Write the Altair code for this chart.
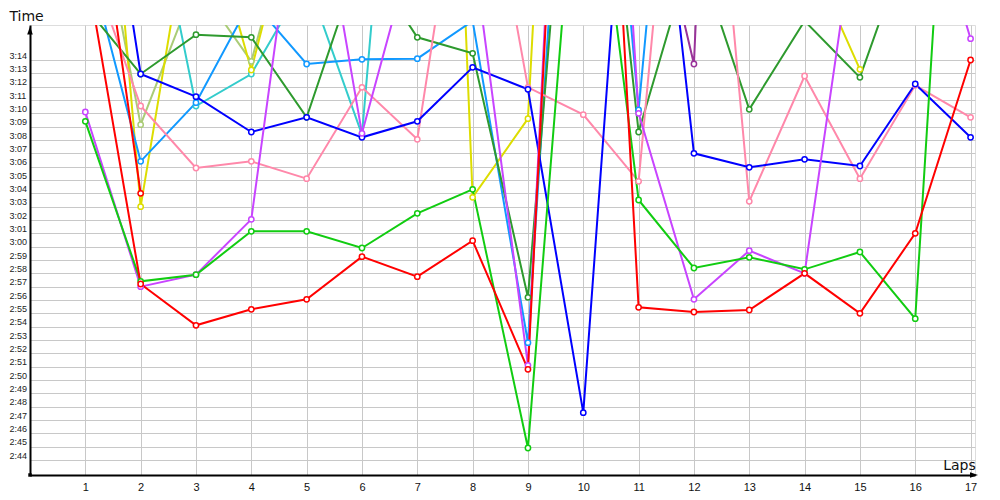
import altair as alt
import pandas as pd

# Lap numbers
laps = list(range(1, 18))

# Lap times in seconds (e.g. 177.2 = 2:57.2); None = no lap recorded
red      = [201.3, 177.2, 174.1, 175.3, 176.05, 179.25, 177.75, 180.45, 170.8, 251.7, 175.45, 175.1, 175.25, 178.0, 175.0, 181.0, 194.0]
green    = [189.4, 177.4, 177.9, 181.15, 181.15, 179.9, 182.5, 184.3, 164.9, 216.6, 183.5, 178.4, 179.2, 178.3, 179.6, 174.6, 241.6]
purple   = [190.1, 177.0, 177.9, 182.05, 212.5, 188.5, 203.75, 202.6, 171.1, 255.0, 190.0, 176.05, 179.7, 178.0, 206.7, 209.4, 195.6]
blue     = [219.8, 192.95, 191.25, 188.6, 189.7, 188.2, 189.4, 193.45, 191.8, 167.55, 224.6, 187.0, 185.95, 186.55, 186.05, 192.2, 188.2]
pink     = [202.2, 190.55, 185.9, 186.4, 185.1, 191.95, 188.05, 214.9, 191.95, 189.9, 184.9, 229.4, 183.4, 192.8, 185.1, 192.1, 189.7]
dkgreen  = [198.0, 192.95, 195.9, 195.7, 189.7, 202.0, 195.7, 194.5, 176.2, 226.5, 188.6, 202.7, 190.3, 196.93, 192.7, 204.4, 200.0]
ltblue   = [202.3, 186.4, 190.8, 198.5, 193.7, 194.05, 194.1, 196.93, 172.8, 237.0, 190.25, 234.7, None, None, None, None, None]
cyan     = [225.0, 211.1, 190.55, 192.95, 200.1, 188.4, 236.9, None, None, None, None, None, None, None, None, None, None]
yellow   = [230.7, 183.0, 208.0, 193.25, 209.5, 215.0, 286.0, 183.7, 189.6, 266.6, 212.0, 206.0, 208.0, 202.6, 193.3, None, None]
olive    = [210.8, 189.15, 199.8, 193.9, 209.0, None, None, None, None, None, None, None, None, None, None, None, None]
red2     = [213.1, 184.0, None, None, None, None, None, None, None, None, None, None, None, None, None, None, None]
dkpurple = [None, None, None, None, None, None, None, None, None, None, 211.3, 193.7, 289.0, None, None, None, None]

series_names = ["olive", "cyan", "dkpurple", "yellow", "ltblue", "dkgreen", "pink", "blue", "red2", "purple", "green", "red"]
series_vals = [olive, cyan, dkpurple, yellow, ltblue, dkgreen, pink, blue, red2, purple, green, red]
series_cols = ["#aacc77", "#33cccc", "#993399", "#dddd00", "#1199ff", "#2e9a2e",
               "#ff88aa", "#0000ff", "#ff0000", "#c844ff", "#11cc11", "#ff0000"]

# y-axis tick values (2:44 .. 3:14)
y_ticks = list(range(164, 195))

rows = []
for order, (name, vals) in enumerate(zip(series_names, series_vals)):
    for lap, v in zip(laps, vals):
        if v is not None:
            rows.append({"driver": name, "lap": lap, "t": v, "o": order})
df = pd.DataFrame(rows)

color = alt.Color("driver:N", scale=alt.Scale(domain=series_names, range=series_cols), legend=None)

x_enc = alt.X(
    "lap:Q",
    scale=alt.Scale(domain=[0, 17.08], nice=False, zero=False),
    axis=alt.Axis(
        values=laps, tickCount=40, format="d", grid=True, gridColor="#c8c8c8", gridWidth=1, ticks=False,
        domainColor="black", domainWidth=2,
        labelFont="Liberation Sans", labelFontSize=11, labelColor="#111",
        labelPadding=6, labelFlush=False, labelOverlap=False,
        title="Laps", titleFont="DejaVu Sans", titleFontSize=14, titleFontWeight="normal",
        titleColor="#111", titleX=929, titleY=-10, titleAlign="center", titleBaseline="middle",
    ),
)
y_enc = alt.Y(
    "t:Q",
    scale=alt.Scale(domain=[162.875, 196.625], nice=False, zero=False),
    axis=alt.Axis(
        values=y_ticks, tickCount=60, grid=True, gridColor="#c8c8c8", gridWidth=1, ticks=False,
        domainColor="black", domainWidth=2,
        labelExpr="floor(datum.value/60) + ':' + (datum.value % 60 < 10 ? '0' : '') + (datum.value % 60)",
        labelFont="Liberation Sans", labelFontSize=9, labelColor="#222",
        labelAlign="left", labelPadding=21, labelBaseline="bottom", labelOverlap=False, labelBound=False,
        title="Time", titleFont="DejaVu Sans", titleFontSize=14, titleFontWeight="normal",
        titleColor="#111", titleAngle=0, titleX=-4, titleY=-9, titleAlign="center", titleBaseline="middle",
    ),
)

base = alt.Chart(df)
lines = base.mark_line(strokeWidth=2, clip=True).encode(
    x=x_enc, y=y_enc, color=color, detail="driver:N", order="lap:Q"
)
points = base.mark_point(shape="circle", filled=False, fill="white", fillOpacity=1, opacity=1,
                         size=28, strokeWidth=1.5, clip=True).encode(
    x="lap:Q", y="t:Q", color=color
)

deco = pd.DataFrame({"k": [0]})
arrow_y = alt.Chart(deco).mark_point(shape="M0,-1L0.7,1L-0.7,1Z", filled=True, color="black",
                                     size=64, opacity=1).encode(x=alt.value(0), y=alt.value(5.5))
arrow_x = alt.Chart(deco).mark_point(shape="M1,0L-1,-0.7L-1,0.7Z", filled=True, color="black",
                                     size=64, opacity=1).encode(x=alt.value(944), y=alt.value(450))
origin = alt.Chart(deco).mark_point(shape="square", filled=True, color="black",
                                    size=12, opacity=1).encode(x=alt.value(0), y=alt.value(450))

chart = alt.layer(lines, points, arrow_y, arrow_x, origin).properties(
    width=945, height=450,
    autosize=alt.AutoSizeParams(type="none"),
    padding={"left": 22, "top": 17, "right": 15, "bottom": 25},
).configure_view(stroke=None).configure(background="white")

chart.save("out.html", embed_options={"renderer": "svg", "actions": False})
